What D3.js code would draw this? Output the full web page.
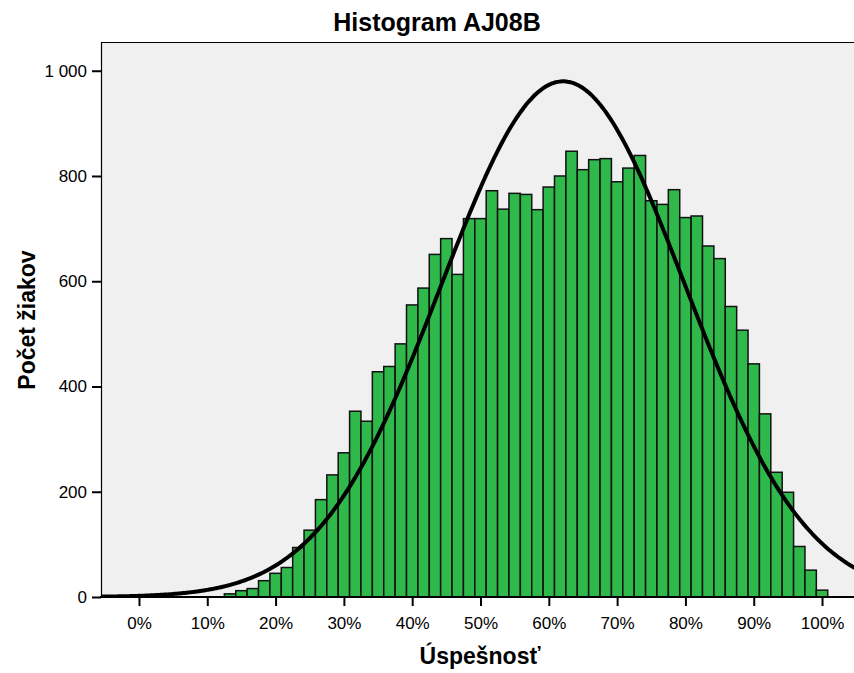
<!DOCTYPE html>
<html>
<head>
<meta charset="utf-8">
<script src="https://cdn.jsdelivr.net/npm/d3@7"></script>
<style>
  html, body { margin: 0; padding: 0; background: #ffffff; }
  svg { display: block; }
  text { font-family: "Liberation Sans", Arial, sans-serif; }
</style>
</head>
<body>
<svg id="chart" width="854" height="673"></svg>
<script>
// ---- data (score points 8..60 out of 60; counts of pupils) ----
const scorePoints = [8, 9, 10, 11, 12, 13, 14, 15, 16, 17, 18, 19, 20, 21, 22, 23, 24, 25, 26, 27, 28, 29, 30,
  31, 32, 33, 34, 35, 36, 37, 38, 39, 40, 41, 42, 43, 44, 45, 46, 47, 48, 49, 50,
  51, 52, 53, 54, 55, 56, 57, 58, 59, 60];
const counts = [6, 12, 16, 31, 45, 56, 94, 127, 185, 232, 274, 353, 334, 428, 438, 481, 555, 587, 651, 681, 613, 719, 719,
  772, 737, 767, 765, 736, 779, 800, 847, 812, 831, 833, 789, 815, 839, 753, 746, 774, 721, 724, 667,
  643, 552, 507, 443, 348, 237, 199, 96, 51, 13];
const maxPoints = 60;
const xTicks = [0, 10, 20, 30, 40, 50, 60, 70, 80, 90, 100];
const xTickLabels = ["0%", "10%", "20%", "30%", "40%", "50%", "60%", "70%", "80%", "90%", "100%"];
const yTicks = [0, 200, 400, 600, 800, 1000];
const yTickLabels = ["0", "200", "400", "600", "800", "1 000"];
const curveMean = 62.1;   // %
const curveSd = 17.8;     // %
const titleText = "Histogram AJ08B";
const xTitle = "Úspešnosť";
const yTitle = "Počet žiakov";

// ---- layout ----
const svg = d3.select("#chart");
const plotL = 101, plotT = 42, plotB = 597, plotR = 854;
const x = d3.scaleLinear().domain([-5.56, 104.68]).range([plotL, plotR]);
const y = d3.scaleLinear().domain([0, 1054.6]).range([plotB, plotT]);
const binW = 100 / maxPoints;

// clip
svg.append("defs").append("clipPath").attr("id", "clip")
  .append("rect").attr("x", plotL).attr("y", plotT).attr("width", 900 - plotL).attr("height", plotB - plotT);

// background
svg.append("rect")
  .attr("x", plotL).attr("y", plotT)
  .attr("width", 900 - plotL).attr("height", plotB - plotT)
  .attr("fill", "#f0f0f0");

// bars
const bars = scorePoints.map((p, i) => ({ pct: p / maxPoints * 100, n: counts[i] }));
svg.append("g").attr("clip-path", "url(#clip)")
  .selectAll("rect").data(bars).join("rect")
  .attr("x", d => x(d.pct - binW / 2))
  .attr("width", d => x(d.pct + binW / 2) - x(d.pct - binW / 2))
  .attr("y", d => y(d.n))
  .attr("height", d => y(0) - y(d.n))
  .attr("fill", "#2fb94b")
  .attr("stroke", "#111")
  .attr("stroke-width", 1.5);

// normal curve
const N = d3.sum(counts);
const norm = v => N * binW / (curveSd * Math.sqrt(2 * Math.PI)) *
  Math.exp(-0.5 * Math.pow((v - curveMean) / curveSd, 2));
const curveXs = d3.range(-6, 106.01, 0.25);
svg.append("path").attr("clip-path", "url(#clip)")
  .datum(curveXs)
  .attr("fill", "none")
  .attr("stroke", "#000")
  .attr("stroke-width", 4)
  .attr("d", d3.line().x(v => x(v)).y(v => y(norm(v))).curve(d3.curveBasis));

// frame
svg.append("path")
  .attr("d", `M${900},${plotT + 0.5}H${plotL + 0.5}V${plotB}`)
  .attr("fill", "none").attr("stroke", "#000").attr("stroke-width", 1.2);
svg.append("line")
  .attr("x1", plotL - 1).attr("x2", 900).attr("y1", plotB).attr("y2", plotB)
  .attr("stroke", "#000").attr("stroke-width", 2.2);

// y axis
const yAxis = d3.axisLeft(y).tickValues(yTicks).tickSize(9).tickPadding(5)
  .tickFormat((d, i) => yTickLabels[i]);
const gy = svg.append("g").attr("transform", `translate(${plotL},0)`).call(yAxis);
gy.select(".domain").remove();
gy.selectAll(".tick line").attr("stroke", "#000").attr("stroke-width", 2);
gy.selectAll(".tick text").attr("font-size", 17).attr("fill", "#000")
  .attr("font-family", "'Liberation Sans', Arial, sans-serif");

// x axis
const xAxis = d3.axisBottom(x).tickValues(xTicks).tickSize(9).tickPadding(11)
  .tickFormat((d, i) => xTickLabels[i]);
const gx = svg.append("g").attr("transform", `translate(0,${plotB})`).call(xAxis);
gx.select(".domain").remove();
gx.selectAll(".tick line").attr("stroke", "#000").attr("stroke-width", 2);
gx.selectAll(".tick text").attr("font-size", 17).attr("fill", "#000")
  .attr("font-family", "'Liberation Sans', Arial, sans-serif");

// titles
svg.append("text").attr("x", 437).attr("y", 31)
  .attr("text-anchor", "middle").attr("font-size", 25).attr("font-weight", "bold")
  .text(titleText);
svg.append("text").attr("x", 480).attr("y", 664)
  .attr("text-anchor", "middle").attr("font-size", 23).attr("font-weight", "bold")
  .text(xTitle);
svg.append("text").attr("transform", "translate(27,320) rotate(-90)")
  .attr("text-anchor", "middle").attr("dominant-baseline", "central")
  .attr("font-size", 23).attr("font-weight", "bold")
  .text(yTitle);
</script>
</body>
</html>
